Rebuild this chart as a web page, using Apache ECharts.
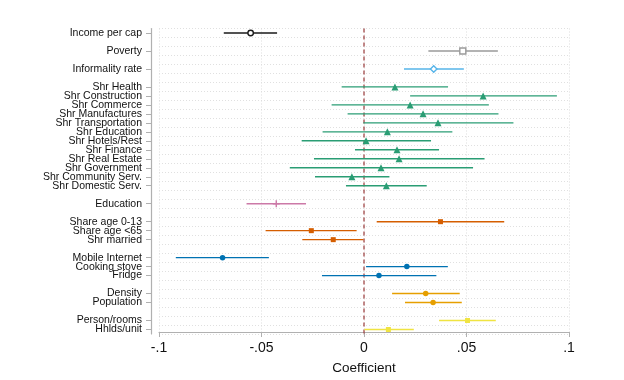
<!DOCTYPE html>
<html><head><meta charset="utf-8">
<script src="https://cdn.jsdelivr.net/npm/echarts@6/dist/echarts.min.js"></script>
<style>html,body{margin:0;padding:0;background:#fff}#c{width:624px;height:380px}</style>
</head><body><div id="c"></div>
<script>
// Row labels ('' = spacer rows between groups), top to bottom
const categories = ['Income per cap','','Poverty','','Informality rate','',
  'Shr Health','Shr Construction','Shr Commerce','Shr Manufactures','Shr Transportation',
  'Shr Education','Shr Hotels/Rest','Shr Finance','Shr Real Estate','Shr Government',
  'Shr Community Serv.','Shr Domestic Serv.','',
  'Education','',
  'Share age 0-13','Share age <65','Shr married','',
  'Mobile Internet','Cooking stove','Fridge','',
  'Density','Population','',
  'Person/rooms','Hhlds/unit'];
// point estimates
const coef = [-0.0553,null,0.0482,null,0.0340,null,
  0.0151,0.0581,0.0225,0.0288,0.0361,0.0114,0.0010,0.0161,0.0171,0.0083,-0.0059,0.0109,null,
  -0.0428,null,
  0.0373,-0.0257,-0.0150,null,
  -0.0690,0.0209,0.0073,null,
  0.0301,0.0337,null,
  0.0505,0.0119];
// lower CI
const ciLow = [-0.0684,null,0.0314,null,0.0195,null,
  -0.0109,0.0225,-0.0158,-0.0080,-0.0003,-0.0202,-0.0304,-0.0044,-0.0244,-0.0362,-0.0239,-0.0088,null,
  -0.0573,null,
  0.0062,-0.0480,-0.0301,null,
  -0.0918,0.0010,-0.0205,null,
  0.0137,0.0200,null,
  0.0366,0.0002];
// upper CI
const ciHigh = [-0.0424,null,0.0653,null,0.0487,null,
  0.0410,0.0941,0.0609,0.0656,0.0729,0.0431,0.0327,0.0366,0.0588,0.0532,0.0124,0.0306,null,
  -0.0283,null,
  0.0684,-0.0036,-0.0003,null,
  -0.0464,0.0409,0.0353,null,
  0.0467,0.0477,null,
  0.0643,0.0243];
// group of each row
const rowGroup = [0,null,1,null,2,null,3,3,3,3,3,3,3,3,3,3,3,3,null,4,null,5,5,5,null,6,6,6,null,7,7,null,8,8];
const xTicks = [-0.1,-0.05,0,0.05,0.1];
const xTickLabels = ['-.1','-.05','0','.05','.1'];
const refLine = [0];

const groupColors = ['#1a1a1a','#9a9a9a','#56B4E9','#2a9d74','#CC79A7','#D55E00','#0072B2','#E69F00','#F0E442'];
const plusPath = 'path://M4,0H6V4H10V6H6V10H4V6H0V4H4Z';
const groupSymbols = ['circle','rect','diamond','triangle',plusPath,'rect','circle','circle','rect'];
const groupHollow = [true,true,true,false,false,false,false,false,false];
const groupSize = [5.5,6,6.5,7,7,5,5.5,5.5,5];

const font = "'Liberation Sans', Arial, Helvetica, sans-serif";
const ciData = [];
categories.forEach((c,i)=>{ if(coef[i]!==null) ciData.push([ciLow[i],ciHigh[i],i,rowGroup[i]]); });

const series = [{
  type:'custom',
  encode:{x:0,y:1},
  data:refLine.map(v=>[v,0]),
  z:1,
  renderItem:function(params,api){
    const p=api.coord([api.value(0),0]);
    const cs=params.coordSys;
    return {type:'line',shape:{x1:p[0],y1:cs.y,x2:p[0],y2:cs.y+cs.height},
      style:{stroke:'#9b3b3b',lineWidth:1.2,lineDash:[4,3]}};
  }
},{
  type:'custom',
  encode:{x:[0,1],y:2},
  data:ciData,
  z:2,
  renderItem:function(params,api){
    const p1=api.coord([api.value(0),api.value(2)]);
    const p2=api.coord([api.value(1),api.value(2)]);
    return {type:'line',shape:{x1:p1[0],y1:p1[1],x2:p2[0],y2:p2[1]},
      style:{stroke:groupColors[api.value(3)],lineWidth:1.4}};
  }
}];
groupColors.forEach((col,g)=>{
  const d=[];
  categories.forEach((c,i)=>{ if(rowGroup[i]===g) d.push([coef[i],i]); });
  series.push({type:'scatter',data:d,z:3,symbol:groupSymbols[g],symbolSize:groupSize[g],
    itemStyle: groupHollow[g] ? {color:'#ffffff',borderColor:col,borderWidth:1.4,opacity:1}
                               : {color:col,opacity:1}});
});

const chart = echarts.init(document.getElementById('c'),null,{renderer:'canvas'});
chart.setOption({
  animation:false,
  backgroundColor:'#ffffff',
  textStyle:{fontFamily:font},
  grid:{left:159,right:55,top:28.5,height:306.5},
  xAxis:{type:'value',min:-0.1,max:0.1,interval:0.05,offset:-2,
    name:'Coefficient',nameLocation:'middle',nameGap:29,
    nameTextStyle:{fontSize:13.5,color:'#111',fontFamily:font},
    axisLine:{show:true,onZero:false,lineStyle:{color:'#b0b0b0',width:1.2}},
    axisTick:{show:true,length:5,lineStyle:{color:'#b0b0b0'}},
    axisLabel:{fontSize:14,color:'#111',margin:9,fontFamily:font,
      formatter:function(v){const k=xTicks.findIndex(t=>Math.abs(t-v)<1e-9);return k>=0?xTickLabels[k]:'';}},
    splitLine:{show:true,lineStyle:{color:'#dcdcdc',type:[1,2],width:1}}},
  yAxis:{type:'category',data:categories,inverse:true,offset:8,boundaryGap:true,
    axisLine:{show:true,onZero:false,lineStyle:{color:'#b0b0b0',width:1.2}},
    axisTick:{show:true,length:5,alignWithLabel:true,lineStyle:{color:'#b0b0b0'},
      interval:function(i,v){return v!=='';}},
    axisLabel:{interval:0,fontSize:10.5,color:'#111',margin:9,fontFamily:font},
    splitLine:{show:true,interval:0,lineStyle:{color:'#e0e0e0',type:[1,2],width:1}}},
  series:series
});
</script></body></html>
